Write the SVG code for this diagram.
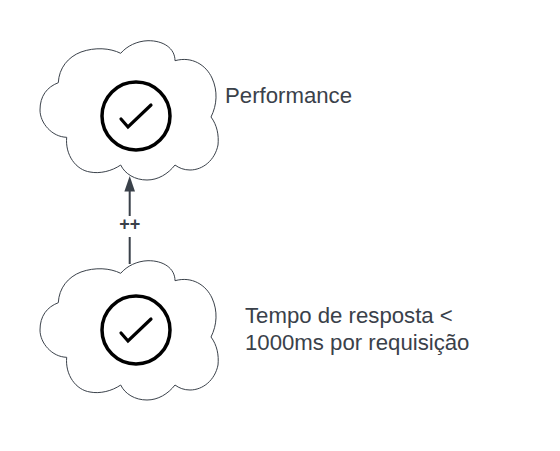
<svg xmlns="http://www.w3.org/2000/svg" width="560" height="451" viewBox="0 0 560 451">
<style>
.cloud{fill:#fff;stroke:#3a414a;stroke-width:1}
.ring{fill:none;stroke:#000;stroke-width:3.500}
.tick{fill:none;stroke:#000;stroke-width:3.200;stroke-linecap:round;stroke-linejoin:miter}
.t{font-family:"Liberation Sans",Arial,sans-serif;font-size:22.200px;fill:#3a414a}
.edge{fill:none;stroke:#3a414a;stroke-width:2}
</style>
<defs>
<path id="c" d="M120.700 53.300C127 46 137 41 148 40.700C163 40.500 175 48 175 60.700C192 56 206 65 212 78C218 91 217 105 211 117C217 125 219 135 218 145C215 160 203 170 190 170C184 170 179 168 175 165C168 174 158 180 147 180C135 180 125 174 120.700 165C112 171 100 174 90 172C76 170 65 155 66.700 137.300C52 137 40 123 40 110C40 96 47 87 58.300 82.700C59 68 68 57 81 52C95 47 110 48 120.700 53.300Z"/>
</defs>
<g id="connectors">
<path class="edge" d="M129.700 264V237M129.700 216V190"/>
<path d="M129.700 176L135 191.500H124.400Z" fill="#3a414a"/>
<text x="129.700" y="229.500" text-anchor="middle" font-family="Liberation Sans,Arial,sans-serif" font-size="18" font-weight="bold" fill="#3a414a">++</text>
</g>
<g id="node-performance">
<use href="#c" class="cloud"/>
<circle class="ring" cx="136" cy="116" r="34"/>
<path class="tick" d="M121 119L128 127L151 105"/>
<text class="t" x="225" y="103">Performance</text>
</g>
<g id="node-tempo">
<use href="#c" class="cloud" y="220"/>
<circle class="ring" cx="136" cy="330" r="34"/>
<path class="tick" d="M121 333L128 341L151 319"/>
<text class="t" x="245" y="323">Tempo de resposta &lt;</text>
<text class="t" x="245" y="350">1000ms por requisição</text>
</g>
</svg>
